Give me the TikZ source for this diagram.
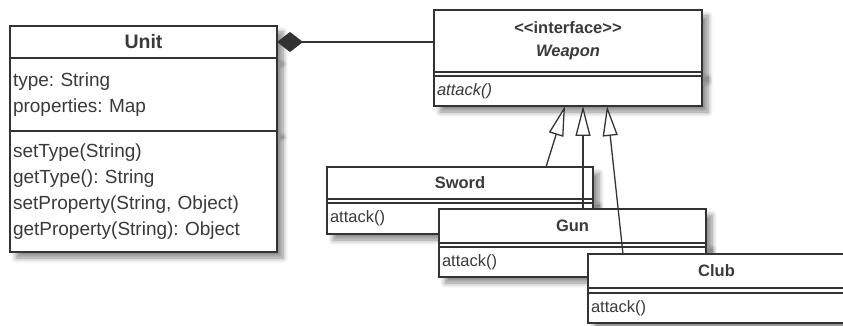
\documentclass[tikz,border=0pt]{standalone}
\usepackage{fontspec}
\setmainfont{Liberation Sans}
\usetikzlibrary{arrows.meta,positioning,shadows.blur}
\definecolor{Ink}{HTML}{333333}
\definecolor{Type}{HTML}{3A3A3A}
\frenchspacing
\tikzset{
 part/.style={draw=Ink, line width=1.5pt, fill=white, inner sep=0pt, outer sep=0pt, text=Type,
  blur shadow={shadow xshift=6pt, shadow yshift=-6pt, shadow blur radius=5pt, shadow blur steps=6, shadow opacity=45}},
 namepart/.style={part, minimum width=#1, align=center, font=\fontsize{16.5}{23}\selectfont\bfseries},
 gap/.style={part, minimum width=#1, minimum height=4pt},
 listpart/.style={part, minimum width=#1, inner xsep=3pt, align=left, font=\fontsize{16.5}{20}\selectfont},
 realize/.style={-{Triangle[length=30pt, width=15pt, fill=white]}, draw=Ink, line width=1.3pt},
 owns/.style={{Diamond[length=26pt, width=20pt]}-, draw=Ink, line width=1.5pt}
}
\begin{document}
\begin{tikzpicture}[x=1pt, y=-1pt]
\useasboundingbox (0,0) rectangle (843,326);
% Unit class
\node[namepart=267pt, minimum height=32pt, anchor=north west, font=\fontsize{19.5}{23}\selectfont\bfseries] (unitT) at (10,26) {Unit};
\node[listpart=267pt, text width=261pt, minimum height=73pt, below=0pt of unitT, font=\fontsize{19}{26}\selectfont] (unitA) {type: String\\properties: Map};
\node[listpart=267pt, text width=261pt, minimum height=121pt, below=0pt of unitA, font=\fontsize{19}{26}\selectfont] (unitM) {setType(String)\\getType(): String\\setProperty(String, Object)\\getProperty(String): Object};
% Weapon interface
\node[namepart=268pt, minimum height=62pt, anchor=north west] (weapT) at (434,10) {\textless\kern0pt\textless interface\textgreater\kern0pt\textgreater\\\textit{Weapon}};
\node[gap=268pt, below=0pt of weapT] (weapG) {};
\node[listpart=268pt, text width=262pt, minimum height=30pt, below=0pt of weapG, font=\fontsize{16.5}{20}\selectfont\itshape] (weapM) {attack()};
\draw[owns] (unitT.east) -- (unitT.east -| weapT.west);
\coordinate (toSword) at ([xshift=131pt]weapM.south west);
\coordinate (toGun) at ([xshift=149pt]weapM.south west);
\coordinate (toClub) at ([xshift=173pt]weapM.south west);
% Sword
\node[namepart=266pt, minimum height=32pt, anchor=north west] (swordT) at (327,167) {Sword};
\node[gap=266pt, below=0pt of swordT] (swordG) {};
\node[listpart=266pt, text width=260pt, minimum height=31pt, below=0pt of swordG] (swordM) {attack()};
\coordinate (swordTop) at ([xshift=219pt]swordT.north west);
\draw[realize] (swordTop) -- (toSword);
% Gun
\node[namepart=267pt, minimum height=34pt, anchor=north west] (gunT) at (439,209) {Gun};
\node[gap=267pt, below=0pt of gunT] (gunG) {};
\node[listpart=267pt, text width=261pt, minimum height=30pt, below=0pt of gunG] (gunM) {attack()};
\coordinate (gunTop) at ([xshift=144pt]gunT.north west);
\draw[realize] (gunTop) -- (toGun);
% Club
\node[namepart=257pt, minimum height=34pt, anchor=north west] (clubT) at (588,254) {Club};
\node[gap=257pt, minimum height=5pt, below=0pt of clubT] (clubG) {};
\node[listpart=257pt, text width=251pt, minimum height=30pt, below=0pt of clubG] (clubM) {attack()};
\coordinate (clubTop) at ([xshift=35pt]clubT.north west);
\draw[realize] (clubTop) -- (toClub);
\end{tikzpicture}
\end{document}
